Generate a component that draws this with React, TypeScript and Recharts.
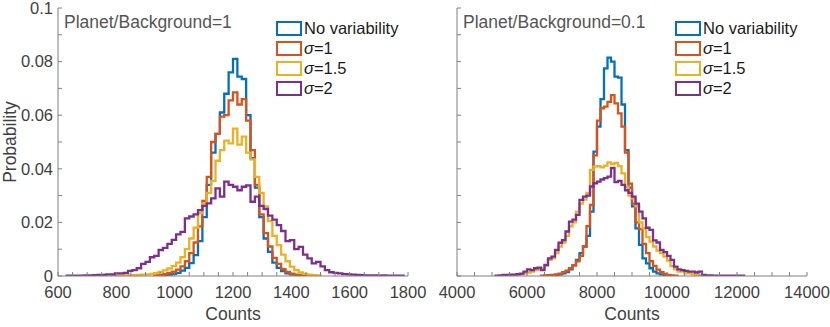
import { LineChart, Line, XAxis, YAxis, Legend } from "recharts";

const FONT = '"Liberation Sans", Arial, Helvetica, sans-serif';
const AXIS = "#808080";
const TICK_TEXT = "#404040";

// series colours (MATLAB default order)
const colors = ["#0072BD", "#D95319", "#EDB120", "#7E2F8E"];
const legendNames = ["No variability", "σ=1", "σ=1.5", "σ=2"];

// y axis
const yTicks = [0, 0.01, 0.02, 0.03, 0.04, 0.05, 0.06, 0.07, 0.08, 0.09, 0.1];
const yLabelTicks = [0, 0.02, 0.04, 0.06, 0.08, 0.1];

// left panel: Planet/Background=1, bins of 15 counts
const leftTitle = "Planet/Background=1";
const leftDomain = [600, 1800];
const leftTicks = [600, 650, 700, 750, 800, 850, 900, 950, 1000, 1050, 1100, 1150, 1200, 1250, 1300, 1350, 1400, 1450, 1500, 1550, 1600, 1650, 1700, 1750, 1800];
const leftLabelTicks = [600, 800, 1000, 1200, 1400, 1600, 1800];
const leftBin = 15;

const blueLeftStart = 945;
const blueLeft = [0.0002, 0.0003, 0.0005, 0.0008, 0.0012, 0.002, 0.003, 0.0048, 0.0078, 0.013, 0.022, 0.034, 0.046, 0.053, 0.061, 0.068, 0.076, 0.081, 0.0744, 0.0735, 0.06, 0.044, 0.033, 0.022, 0.014, 0.009, 0.005, 0.003, 0.0018, 0.001, 0.0006, 0.0003, 0.0002, 0.0001];

const redLeftStart = 930;
const redLeft = [0.0002, 0.0004, 0.0007, 0.0011, 0.0016, 0.0024, 0.0036, 0.0055, 0.0085, 0.0125, 0.0185, 0.028, 0.037, 0.05, 0.053, 0.0595, 0.06, 0.0655, 0.0685, 0.064, 0.066, 0.058, 0.047, 0.034, 0.023, 0.016, 0.011, 0.0068, 0.0045, 0.0026, 0.0015, 0.0009, 0.0005, 0.0003, 0.0002, 0.0001];

const yellowLeftStart = 780;
const yellowLeft = [0.0001, 0.0001, 0.0002, 0.0002, 0.0003, 0.0003, 0.0004, 0.0005, 0.0006, 0.0008, 0.0011, 0.0015, 0.0021, 0.0028, 0.0037, 0.005, 0.007, 0.01, 0.014, 0.018, 0.0235, 0.027, 0.031, 0.0355, 0.043, 0.047, 0.0505, 0.0495, 0.055, 0.049, 0.052, 0.046, 0.0435, 0.037, 0.031, 0.026, 0.0205, 0.015, 0.0115, 0.008, 0.0055, 0.0035, 0.0022, 0.0013, 0.0008, 0.0005, 0.0003, 0.0002];

const purpleLeftStart = 630;
const purpleLeft = [0.0001, 0.0001, 0.0001, 0.0001, 0.0002, 0.0002, 0.0003, 0.0004, 0.0004, 0.0006, 0.0006, 0.001, 0.001, 0.0012, 0.0019, 0.0022, 0.0029, 0.0045, 0.0053, 0.007, 0.0075, 0.0097, 0.0105, 0.012, 0.0135, 0.0155, 0.0165, 0.0215, 0.0222, 0.023, 0.0246, 0.0262, 0.0271, 0.029, 0.0327, 0.0296, 0.0352, 0.034, 0.0333, 0.032, 0.0333, 0.0338, 0.0277, 0.0296, 0.0262, 0.025, 0.0225, 0.021, 0.019, 0.0168, 0.013, 0.0134, 0.01, 0.0109, 0.008, 0.0066, 0.0047, 0.0053, 0.0036, 0.0022, 0.0014, 0.0012, 0.001, 0.0007, 0.0006, 0.0005, 0.0004, 0.0003, 0.0002, 0.0002, 0.0002, 0.0001, 0.0002, 0.0001, 0.0001, 0.0001, 0.0001];

// right panel: Planet/Background=0.1, bins of 100 counts
const rightTitle = "Planet/Background=0.1";
const rightDomain = [4000, 14000];
const rightTicks = [4000, 4500, 5000, 5500, 6000, 6500, 7000, 7500, 8000, 8500, 9000, 9500, 10000, 10500, 11000, 11500, 12000, 12500, 13000, 13500, 14000];
const rightLabelTicks = [4000, 6000, 8000, 10000, 12000, 14000];
const rightBin = 100;

const blueRightStart = 6500;
const blueRight = [0.0001, 0.0002, 0.0003, 0.0004, 0.0006, 0.001, 0.0015, 0.0025, 0.004, 0.006, 0.0085, 0.011, 0.015, 0.024, 0.0464, 0.0557, 0.066, 0.0775, 0.0815, 0.08, 0.0744, 0.074, 0.064, 0.047, 0.033, 0.026, 0.0178, 0.0116, 0.0066, 0.0047, 0.0029, 0.0016, 0.001, 0.0006, 0.0003, 0.0002];

const redRightStart = 6400;
const redRight = [0.0001, 0.0002, 0.0003, 0.0004, 0.0006, 0.0009, 0.0014, 0.002, 0.0029, 0.004, 0.0055, 0.0075, 0.011, 0.0186, 0.0265, 0.045, 0.058, 0.0626, 0.0632, 0.065, 0.0675, 0.0644, 0.0607, 0.0557, 0.046, 0.0345, 0.027, 0.02, 0.0175, 0.012, 0.0085, 0.0055, 0.0038, 0.0024, 0.0014, 0.0008, 0.0004, 0.0002, 0.0001];

const yellowRightStart = 5300;
const yellowRight = [0.0001, 0.0002, 0.0003, 0.0004, 0.0005, 0.0007, 0.001, 0.0013, 0.0016, 0.0022, 0.0025, 0.0029, 0.004, 0.006, 0.0066, 0.0085, 0.011, 0.0125, 0.015, 0.0185, 0.02, 0.024, 0.027, 0.0285, 0.031, 0.0396, 0.0408, 0.041, 0.0405, 0.0412, 0.0424, 0.0418, 0.0422, 0.041, 0.0383, 0.0333, 0.03, 0.029, 0.026, 0.02, 0.0178, 0.0146, 0.0128, 0.011, 0.0095, 0.0085, 0.0072, 0.0057, 0.0037, 0.0025, 0.0016, 0.0016, 0.001, 0.001, 0.0006, 0.0004, 0.0003, 0.0002];

const purpleRightStart = 5100;
const purpleRight = [0.0001, 0.0002, 0.0004, 0.0004, 0.0005, 0.0005, 0.0007, 0.0009, 0.0016, 0.0025, 0.0022, 0.0029, 0.0031, 0.0022, 0.0041, 0.0066, 0.0072, 0.0097, 0.0124, 0.0134, 0.0166, 0.0203, 0.021, 0.0228, 0.0284, 0.0296, 0.03, 0.0334, 0.0346, 0.0352, 0.036, 0.0365, 0.0371, 0.0403, 0.035, 0.0355, 0.034, 0.032, 0.031, 0.0296, 0.027, 0.024, 0.0215, 0.018, 0.0172, 0.0133, 0.0125, 0.0097, 0.0089, 0.0075, 0.006, 0.0035, 0.0025, 0.0022, 0.0019, 0.0016, 0.0016, 0.0013, 0.0016, 0.0004, 0.0002, 0.0002, 0.0001, 0.0001, 0.0001, 0.0001, 0.0001, 0.0001, 0.0001, 0.0001, 0.0001];

// histogram outline: rise at first edge, one point per bin edge, drop at last edge
function toSteps(start: number, width: number, values: number[]) {
  const pts = [{ x: start, p: 0 }];
  values.forEach((p, i) => pts.push({ x: start + i * width, p }));
  pts.push({ x: start + values.length * width, p: 0 });
  return pts;
}

const leftSeries = [
  toSteps(blueLeftStart, leftBin, blueLeft),
  toSteps(redLeftStart, leftBin, redLeft),
  toSteps(yellowLeftStart, leftBin, yellowLeft),
  toSteps(purpleLeftStart, leftBin, purpleLeft),
];
const rightSeries = [
  toSteps(blueRightStart, rightBin, blueRight),
  toSteps(redRightStart, rightBin, redRight),
  toSteps(yellowRightStart, rightBin, yellowRight),
  toSteps(purpleRightStart, rightBin, purpleRight),
];

function LegendName({ name }: { name: string }) {
  if (name.startsWith("σ")) {
    return (
      <span>
        <i>σ</i>
        {name.slice(1)}
      </span>
    );
  }
  return <span>{name}</span>;
}

function HistLegend() {
  return (
    <div style={{ fontFamily: FONT, fontSize: 16.5, color: "#1a1a1a" }}>
      {legendNames.map((n, i) => (
        <div key={n} style={{ display: "flex", alignItems: "center", height: 20 }}>
          <span
            style={{
              display: "inline-block",
              boxSizing: "border-box",
              width: 26,
              height: 15,
              border: `2.5px solid ${colors[i]}`,
              marginRight: 2,
            }}
          />
          <LegendName name={n} />
        </div>
      ))}
    </div>
  );
}

type PanelProps = {
  left: number;
  width: number;
  title: string;
  domain: number[];
  ticks: number[];
  labelTicks: number[];
  series: { x: number; p: number }[][];
  showY: boolean;
};

function Panel({ left, width, title, domain, ticks, labelTicks, series, showY }: PanelProps) {
  const xFmt = (v: number) => (labelTicks.includes(v) ? String(v) : "");
  const yFmt = (v: number) => (showY && yLabelTicks.some((t) => Math.abs(t - v) < 1e-9) ? String(v) : "");
  return (
    <div style={{ position: "absolute", left, top: 0, width, height: 327 }}>
      <LineChart width={width} height={327} margin={{ top: 8, right: width - 408, bottom: 0, left: 0 }} style={{ fontFamily: FONT }}>
        <XAxis
          xAxisId="b"
          type="number"
          dataKey="x"
          domain={domain}
          allowDataOverflow
          ticks={ticks}
          interval={0}
          tickFormatter={xFmt}
          tickSize={-4}
          tickMargin={14}
          height={51}
          stroke={AXIS}
          tick={{ fontSize: 16.5, fill: TICK_TEXT }}
          label={{ value: "Counts", position: "insideBottom", offset: 7, fontSize: 17.5, fill: TICK_TEXT }}
        />
        <XAxis
          xAxisId="t"
          orientation="top"
          type="number"
          domain={domain}
          allowDataOverflow
          ticks={ticks}
          interval={0}
          tickFormatter={() => ""}
          tickSize={-4}
          height={0}
          stroke={AXIS}
        />
        <YAxis
          yAxisId="l"
          type="number"
          domain={[0, 0.1]}
          allowDataOverflow
          ticks={yTicks}
          interval={0}
          tickFormatter={yFmt}
          tickSize={-4}
          tickMargin={9}
          width={58}
          stroke={AXIS}
          tick={{ fontSize: 16.5, fill: TICK_TEXT }}
          label={
            showY
              ? { value: "Probability", angle: -90, position: "insideLeft", offset: 10, fontSize: 17.5, fill: TICK_TEXT, style: { textAnchor: "middle" } }
              : undefined
          }
        />
        <YAxis
          yAxisId="r"
          orientation="right"
          type="number"
          domain={[0, 0.1]}
          allowDataOverflow
          ticks={yTicks}
          interval={0}
          tickFormatter={() => ""}
          tickSize={-4}
          width={0}
          stroke={AXIS}
        />
        {series.map((d, i) => (
          <Line
            key={i}
            xAxisId="b"
            yAxisId="l"
            data={d}
            dataKey="p"
            type="stepAfter"
            stroke={colors[i]}
            strokeWidth={2.3}
            dot={false}
            activeDot={false}
            isAnimationActive={false}
          />
        ))}
        <Legend
          layout="vertical"
          align="center"
          verticalAlign="middle"
          content={() => <HistLegend />}
          wrapperStyle={{ left: 276, top: 18, width: 140, height: 80 }}
        />
      </LineChart>
      <div
        style={{
          position: "absolute",
          left: 64,
          top: 12,
          fontFamily: FONT,
          fontSize: 17.5,
          lineHeight: "20px",
          color: "#555555",
          whiteSpace: "nowrap",
        }}
      >
        {title}
      </div>
    </div>
  );
}

export default function App() {
  return (
    <div style={{ position: "absolute", left: 0, top: 0, width: 830, height: 327, background: "#fff" }}>
      <Panel left={0} width={432} title={leftTitle} domain={leftDomain} ticks={leftTicks} labelTicks={leftLabelTicks} series={leftSeries} showY />
      <Panel left={399} width={431} title={rightTitle} domain={rightDomain} ticks={rightTicks} labelTicks={rightLabelTicks} series={rightSeries} showY={false} />
    </div>
  );
}
